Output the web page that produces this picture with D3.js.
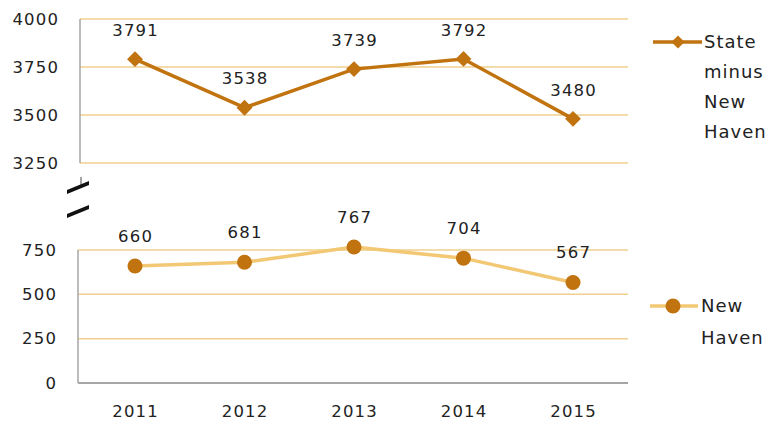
<!DOCTYPE html>
<html><head><meta charset="utf-8">
<script src="https://cdn.jsdelivr.net/npm/d3@7/dist/d3.min.js"></script>
<style>body{margin:0;background:#fff}svg{display:block}text{font-family:"DejaVu Sans",Verdana,sans-serif;fill:#222}</style>
</head><body>
<svg id="c" width="779" height="423"></svg>
<script>
const years = ["2011","2012","2013","2014","2015"];
const stateMinusNH = [3791, 3538, 3739, 3792, 3480];
const newHaven = [660, 681, 767, 704, 567];
const topTicks = [3250, 3500, 3750, 4000];
const bottomTicks = [0, 250, 500, 750];
const legendTop = ["State", "minus", "New", "Haven"];
const legendBottom = ["New", "Haven"];

const dark = "#C0730F", light = "#F2C874", grid = "#F0CF8E", axisGrey = "#A6A6A6";
const svg = d3.select("#c");
const x = d3.scalePoint().domain(years).range([135, 573]);
const yTop = d3.scaleLinear().domain([3250, 4000]).range([163, 19]);
const yBot = d3.scaleLinear().domain([0, 750]).range([383, 250]);
const fs = "16.5px", ls = 1.2;

function numText(sel) {
  return sel.style("font-size", fs).style("letter-spacing", ls + "px");
}

// top panel grid
svg.append("g").selectAll("line").data(topTicks).join("line")
  .attr("x1", 80).attr("x2", 628).attr("y1", d => yTop(d)).attr("y2", d => yTop(d))
  .attr("stroke", grid).attr("stroke-width", 1.5);
svg.append("line").attr("x1", 80).attr("x2", 80).attr("y1", yTop(4000)).attr("y2", yTop(3250))
  .attr("stroke", axisGrey).attr("stroke-width", 1.5);
numText(svg.append("g").selectAll("text").data(topTicks).join("text")
  .attr("x", 58 + ls).attr("y", d => yTop(d)).attr("dy", "0.35em").attr("text-anchor", "end"))
  .text(d => d);

// bottom panel grid
svg.append("g").selectAll("line").data(bottomTicks.filter(d => d > 0)).join("line")
  .attr("x1", 78).attr("x2", 628).attr("y1", d => yBot(d)).attr("y2", d => yBot(d))
  .attr("stroke", grid).attr("stroke-width", 1.5);
svg.append("line").attr("x1", 78).attr("x2", 78).attr("y1", yBot(750)).attr("y2", yBot(0))
  .attr("stroke", axisGrey).attr("stroke-width", 1.5);
svg.append("line").attr("x1", 78).attr("x2", 628).attr("y1", yBot(0)).attr("y2", yBot(0))
  .attr("stroke", axisGrey).attr("stroke-width", 2);
numText(svg.append("g").selectAll("text").data(bottomTicks).join("text")
  .attr("x", 56 + ls).attr("y", d => yBot(d)).attr("dy", "0.35em").attr("text-anchor", "end"))
  .text(d => d);

// x labels
numText(svg.append("g").selectAll("text").data(years).join("text")
  .attr("x", d => x(d) + ls / 2).attr("y", 411).attr("dy", "0.35em").attr("text-anchor", "middle"))
  .text(d => d);

// break marks
svg.append("line").attr("x1", 81).attr("x2", 81).attr("y1", 177).attr("y2", 185)
  .attr("stroke", "#888").attr("stroke-width", 1.5);
[188, 212].forEach(cy => {
  svg.append("path").attr("d", `M67,${cy+2} L89,${cy-7} L89,${cy-3} L67,${cy+6} Z`).attr("fill", "#111");
});

// top series
const topData = years.map((y, i) => ({y, v: stateMinusNH[i]}));
svg.append("path").datum(topData)
  .attr("d", d3.line().x(d => x(d.y)).y(d => yTop(d.v)))
  .attr("fill", "none").attr("stroke", dark).attr("stroke-width", 3.5);
svg.append("g").selectAll("path").data(topData).join("path")
  .attr("d", d3.symbol(d3.symbolDiamond2, 160)())
  .attr("transform", d => `translate(${x(d.y)},${yTop(d.v)})`)
  .attr("fill", dark);
numText(svg.append("g").selectAll("text").data(topData).join("text")
  .attr("x", d => x(d.y) + ls / 2).attr("y", d => yTop(d.v) - 29).attr("dy", "0.35em").attr("text-anchor", "middle"))
  .text(d => d.v);

// bottom series
const botData = years.map((y, i) => ({y, v: newHaven[i]}));
svg.append("path").datum(botData)
  .attr("d", d3.line().x(d => x(d.y)).y(d => yBot(d.v)))
  .attr("fill", "none").attr("stroke", light).attr("stroke-width", 3.5);
svg.append("g").selectAll("circle").data(botData).join("circle")
  .attr("cx", d => x(d.y)).attr("cy", d => yBot(d.v)).attr("r", 7.5).attr("fill", dark);
numText(svg.append("g").selectAll("text").data(botData).join("text")
  .attr("x", d => x(d.y) + ls / 2).attr("y", d => yBot(d.v) - 30).attr("dy", "0.35em").attr("text-anchor", "middle"))
  .text(d => d.v);

// legends
svg.append("line").attr("x1", 653).attr("x2", 702).attr("y1", 42).attr("y2", 42).attr("stroke", dark).attr("stroke-width", 3.5);
svg.append("path").attr("d", d3.symbol(d3.symbolDiamond2, 110)()).attr("transform", "translate(678,42)").attr("fill", dark);
svg.append("g").selectAll("text").data(legendTop).join("text")
  .attr("x", 704).attr("y", (d, i) => 42 + i * 30).attr("dy", "0.35em")
  .style("font-size", "18px").style("letter-spacing", "1px").text(d => d);

svg.append("line").attr("x1", 650).attr("x2", 698).attr("y1", 306).attr("y2", 306).attr("stroke", light).attr("stroke-width", 3.5);
svg.append("circle").attr("cx", 673).attr("cy", 306).attr("r", 7.5).attr("fill", dark);
svg.append("g").selectAll("text").data(legendBottom).join("text")
  .attr("x", 701).attr("y", (d, i) => 306 + i * 32).attr("dy", "0.35em")
  .style("font-size", "18px").style("letter-spacing", "1px").text(d => d);
</script>
</body></html>
